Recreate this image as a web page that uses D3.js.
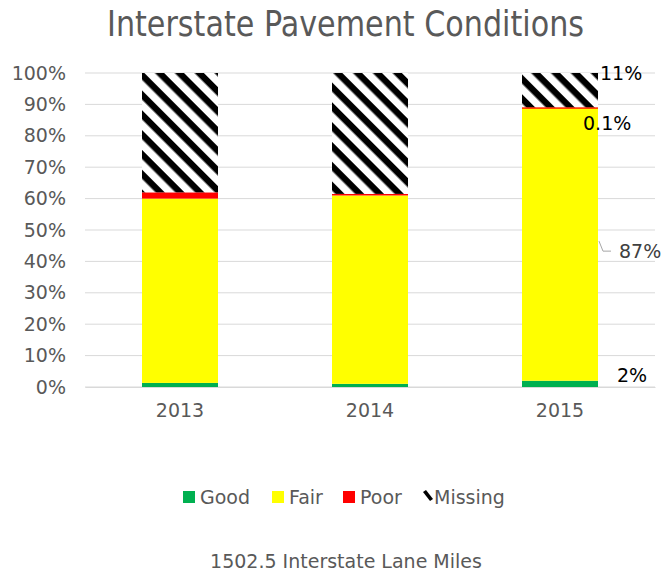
<!DOCTYPE html>
<html>
<head>
<meta charset="utf-8">
<script src="https://cdn.jsdelivr.net/npm/d3@7"></script>
<style>
  body { margin: 0; background: #fff; }
  text { font-family: "DejaVu Sans", sans-serif; }
</style>
</head>
<body>
<svg id="chart" width="661" height="582"></svg>
<script>
// data
var years = ["2013", "2014", "2015"];
var series = ["Good", "Fair", "Poor", "Missing"];
var good = [1.3, 1.0, 2.0];
var fair = [58.7, 60.0, 87.0];
var poor = [2.0, 0.5, 0.1];
var missing = [38.0, 38.5, 10.9];
var yTicks = [0, 10, 20, 30, 40, 50, 60, 70, 80, 90, 100];
var labels2015 = ["2%", "87%", "0.1%", "11%"];

var colors = { Good: "#00b050", Fair: "#ffff00", Poor: "#ff0000", Missing: "url(#hatch)" };

var rows = years.map(function(y, i) {
  return { year: y, Good: good[i], Fair: fair[i], Poor: poor[i], Missing: missing[i] };
});

var margin = { top: 73, left: 85, right: 6, bottom: 195 };
var width = 661 - margin.left - margin.right,
    height = 582 - margin.top - margin.bottom;

var svg = d3.select("#chart");

// hatch pattern, stripes running top-left to bottom-right
var defs = svg.append("defs");
var pat = defs.append("pattern")
  .attr("id", "hatch")
  .attr("patternUnits", "userSpaceOnUse")
  .attr("width", 14).attr("height", 14)
  .attr("patternTransform", "rotate(45)");
pat.append("rect").attr("width", 14).attr("height", 14).attr("fill", "#fff");
pat.append("rect").attr("y", 0).attr("width", 14).attr("height", 6.5).attr("fill", "#000");

// title: squeezed to the reference width
svg.append("text")
  .attr("x", 107).attr("y", 36)
  .attr("font-size", 35)
  .attr("textLength", 477).attr("lengthAdjust", "spacingAndGlyphs")
  .attr("fill", "#595959")
  .text("Interstate Pavement Conditions");

var g = svg.append("g").attr("transform", "translate(" + margin.left + "," + margin.top + ")");

var x = d3.scaleBand().domain(years).range([0, width]).paddingInner(0.6).paddingOuter(0.3);
var y = d3.scaleLinear().domain([0, 100]).range([height, 0]);

// grid
g.append("g").selectAll("line").data(yTicks).join("line")
  .attr("x1", 0).attr("x2", width)
  .attr("y1", function(d) { return y(d); }).attr("y2", function(d) { return y(d); })
  .attr("stroke", "#d9d9d9").attr("stroke-width", 1);

// y axis labels
var yAxis = g.append("g")
  .call(d3.axisLeft(y).tickValues(yTicks).tickFormat(function(d) { return d + "%"; }).tickSize(0).tickPadding(19));
yAxis.select(".domain").remove();
yAxis.selectAll("text").attr("font-size", 19).attr("fill", "#595959").attr("font-family", "DejaVu Sans, sans-serif");

// x axis
var xAxis = g.append("g").attr("transform", "translate(0," + height + ")")
  .call(d3.axisBottom(x).tickSize(0).tickPadding(17));
xAxis.select(".domain").attr("stroke", "#d9d9d9");
xAxis.selectAll("text").attr("font-size", 19).attr("fill", "#595959").attr("font-family", "DejaVu Sans, sans-serif");

var stacked = d3.stack().keys(series)(rows);

g.append("g").selectAll("g").data(stacked).join("g")
  .attr("fill", function(d) { return colors[d.key]; })
  .selectAll("rect").data(function(d) { return d; }).join("rect")
  .attr("x", function(d) { return x(d.data.year); })
  .attr("width", x.bandwidth())
  .attr("y", function(d) { return y(d[1]); })
  .attr("height", function(d) { return Math.max(1.5, y(d[0]) - y(d[1])); });

// labels for 2015
var last = years.length - 1;
var bx = x(years[last]) + x.bandwidth();
var lab = g.append("g").attr("font-size", 19).attr("fill", "#000");
// Good
lab.append("text").attr("x", bx + 19).attr("y", y(stacked[0][last][1]) - 5)
  .attr("dy", "0.35em").text(labels2015[0]);
// Fair with leader
var fairMid = y((stacked[1][last][0] + stacked[1][last][1]) / 2);
g.append("path")
  .attr("d", "M" + (bx + 1) + "," + (fairMid - 3) + "L" + (bx + 5) + "," + (fairMid + 7) + "L" + (bx + 13) + "," + (fairMid + 7))
  .attr("fill", "none").attr("stroke", "#a6a6a6").attr("stroke-width", 1);
lab.append("text").attr("x", bx + 21).attr("y", fairMid + 7).attr("dy", "0.35em")
  .attr("fill", "#404040").text(labels2015[1]);
// Poor
lab.append("text").attr("x", bx - 15).attr("y", y(stacked[2][last][1]) + 16)
  .attr("dy", "0.35em").text(labels2015[2]);
// Missing
lab.append("text").attr("x", bx + 2).attr("y", y(100))
  .attr("dy", "0.35em").text(labels2015[3]);

// legend
var legX = [183, 272, 343, 423];
var leg = svg.append("g").attr("transform", "translate(0,497)");
series.forEach(function(s, i) {
  var it = leg.append("g").attr("transform", "translate(" + legX[i] + ",0)");
  if (s === "Missing") {
    it.append("path").attr("d", "M0,-5 L3,-7 L10,2 L7,4 Z").attr("fill", "#000");
  } else {
    it.append("rect").attr("x", 0).attr("y", -6).attr("width", 12).attr("height", 12).attr("fill", colors[s]);
  }
  it.append("text").attr("x", s === "Missing" ? 11 : 17).attr("y", 0).attr("dy", "0.35em")
    .attr("font-size", 19).attr("fill", "#595959").text(s);
});

svg.append("text")
  .attr("x", 346).attr("y", 568)
  .attr("text-anchor", "middle")
  .attr("font-size", 19).attr("fill", "#595959")
  .text("1502.5 Interstate Lane Miles");
</script>
</body>
</html>
